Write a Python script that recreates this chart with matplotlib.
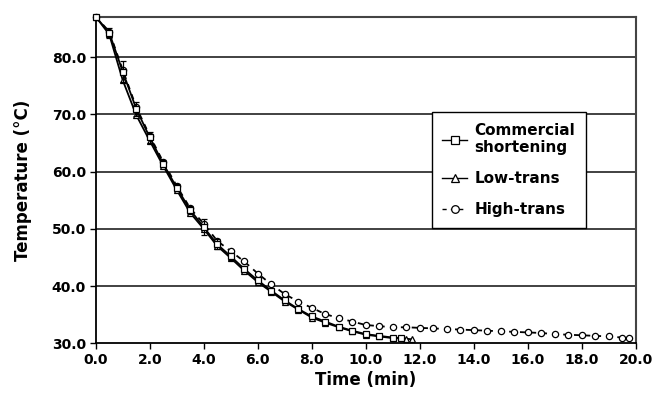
import numpy as np
import matplotlib
matplotlib.use("Agg")
import matplotlib.pyplot as plt
from matplotlib.lines import Line2D

# Sample times (min) and temperatures (deg C)
time_comm = [0.0, 0.5, 1.0, 1.5, 2.0, 2.5, 3.0, 3.5, 4.0, 4.5, 5.0, 5.5,
             6.0, 6.5, 7.0, 7.5, 8.0, 8.5, 9.0, 9.5, 10.0, 10.5, 11.0, 11.3]
temp_comm = [87.1, 84.3, 77.5, 71.0, 66.0, 61.4, 57.2, 53.3, 50.3, 47.3, 45.2, 43.0,
             41.0, 39.2, 37.5, 36.0, 34.7, 33.8, 32.9, 32.2, 31.6, 31.3, 31.0, 30.9]
err_comm = [0.0, 0.9, 1.8, 1.2, 1.0, 0.6, 0.6, 0.7, 1.4, 0.9, 0.6, 0.5,
            0.5, 0.4, 0.4, 0.3, 0.3, 0.3, 0.3, 0.3, 0.2, 0.2, 0.2, 0.2]

time_low = [0.0, 0.5, 1.0, 1.5, 2.0, 2.5, 3.0, 3.5, 4.0, 4.5, 5.0, 5.5,
            6.0, 6.5, 7.0, 7.5, 8.0, 8.5, 9.0, 9.5, 10.0, 10.5, 11.0, 11.5, 11.7]
temp_low = [87.1, 84.0, 76.0, 69.9, 65.4, 61.0, 56.8, 52.8, 50.0, 47.0, 44.9, 42.7,
            40.7, 39.0, 37.3, 35.9, 34.5, 33.6, 32.8, 32.1, 31.5, 31.2, 30.9, 30.8, 30.7]

time_high = [0.0, 0.5, 1.0, 1.5, 2.0, 2.5, 3.0, 3.5, 4.0, 4.5, 5.0, 5.5,
             6.0, 6.5, 7.0, 7.5, 8.0, 8.5, 9.0, 9.5, 10.0, 10.5, 11.0, 11.5,
             12.0, 12.5, 13.0, 13.5, 14.0, 14.5, 15.0, 15.5, 16.0, 16.5, 17.0, 17.5,
             18.0, 18.5, 19.0, 19.5, 19.75]
temp_high = [87.1, 84.5, 77.8, 71.3, 66.3, 61.7, 57.5, 53.6, 50.9, 47.9, 46.1, 44.3,
             42.2, 40.3, 38.6, 37.3, 36.2, 35.1, 34.4, 33.8, 33.2, 33.0, 32.8, 32.8,
             32.7, 32.6, 32.5, 32.4, 32.3, 32.2, 32.1, 32.0, 31.9, 31.8, 31.6, 31.5,
             31.4, 31.3, 31.2, 31.0, 30.9]

x_ticks = [0, 2, 4, 6, 8, 10, 12, 14, 16, 18, 20]
y_ticks = [30, 40, 50, 60, 70, 80]

fig = plt.figure(figsize=(6.61, 4.01), dpi=100)
ax = fig.add_axes([0.1448, 0.1439, 0.8172, 0.8145])

mk = dict(color='black', markerfacecolor='white', markeredgecolor='black',
          markeredgewidth=0.9, markersize=4.5, clip_on=False)
dash = (0, (3, 3))

ax.plot(time_high, temp_high, marker='o', linestyle=dash, linewidth=1.3,
        zorder=3, **mk)
ax.plot(time_low, temp_low, marker='^', linestyle='-', linewidth=1.3,
        zorder=4, **mk)
ax.errorbar(time_comm, temp_comm, yerr=err_comm, marker='s', linestyle='-',
            linewidth=1.3, ecolor='black', elinewidth=0.9, capsize=2.5,
            zorder=5, **mk)

ax.set_xlim(0, 20)
ax.set_ylim(30, 87.1)
ax.set_xticks(x_ticks)
ax.set_xticklabels(['%.1f' % v for v in x_ticks])
ax.set_yticks(y_ticks)
ax.set_yticklabels(['%.1f' % v for v in y_ticks])
ax.tick_params(axis='both', direction='out', length=4, width=1.0,
               labelsize=10, pad=3)
for lbl in ax.get_xticklabels() + ax.get_yticklabels():
    lbl.set_fontweight('bold')

for y in y_ticks[1:]:
    ax.axhline(y, color='#333333', linewidth=1.3, zorder=1)

for s in ['left', 'bottom']:
    ax.spines[s].set_linewidth(1.3)
    ax.spines[s].set_color('black')
for s in ['top', 'right']:
    ax.spines[s].set_linewidth(1.5)
    ax.spines[s].set_color('#444444')

ax.set_xlabel('Time (min)', fontsize=12, fontweight='bold', labelpad=3)
ax.set_ylabel('Temperature (°C)', fontsize=12, fontweight='bold', labelpad=14)

# legend handles without the error bar glyph
lk = dict(color='black', markerfacecolor='white', markeredgecolor='black',
          markeredgewidth=0.9, markersize=5.5, linewidth=1.0)
handles = [Line2D([], [], marker='s', linestyle='-', **lk),
           Line2D([], [], marker='^', linestyle='-', **lk),
           Line2D([], [], marker='o', linestyle=dash, **lk)]
labels = ['Commercial\nshortening', 'Low-trans', 'High-trans']
leg = ax.legend(handles, labels,
                loc='upper left', bbox_to_anchor=(0.622, 0.708),
                prop={'weight': 'bold', 'size': 11}, handlelength=1.6,
                handletextpad=0.5, labelspacing=1.05, borderpad=0.7,
                borderaxespad=0, fancybox=False, framealpha=1, edgecolor='black')
leg.get_frame().set_linewidth(1.0)

fig.savefig('out.png', dpi=100)
